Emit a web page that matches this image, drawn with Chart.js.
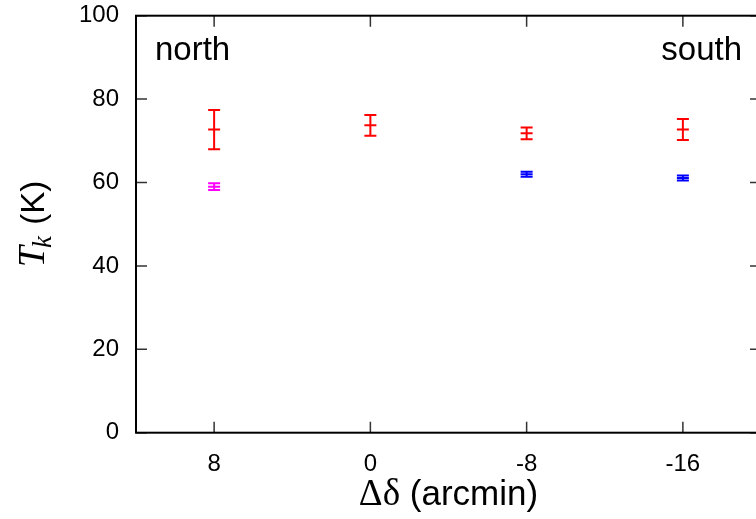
<!DOCTYPE html>
<html>
<head>
<meta charset="utf-8">
<script src="https://cdn.jsdelivr.net/npm/chart.js@4"></script>
<style>
  html, body { margin: 0; padding: 0; background: #fff; overflow: hidden; }
  #wrap { position: absolute; left: 0; top: 0; width: 772px; height: 519px; }
</style>
</head>
<body>
<div id="wrap"><canvas id="tk-chart"></canvas></div>
<script>
// declination offsets (arcmin), north to south
const offsets = ['8', '0', '-8', '-16'];

// kinetic temperature (K) and 1-sigma errors for each component
const redTk = [72.7, 73.7, 71.8, 72.7];
const redErr = [4.7, 2.5, 1.4, 2.5];
const magentaTk = [59.0, null, null, null];
const magentaErr = [0.8, null, null, null];
const blueTk = [null, null, 62.0, 61.1];
const blueErr = [null, null, 0.6, 0.6];

const SANS = '"Liberation Sans", Arial, Helvetica, sans-serif';
const SERIF = '"Liberation Serif", "Times New Roman", serif';

// vertical error bars with caps
const errorBars = {
  id: 'errorBars',
  afterDatasetsDraw(chart) {
    const ctx = chart.ctx;
    const yScale = chart.scales.y;
    chart.data.datasets.forEach((ds, i) => {
      const meta = chart.getDatasetMeta(i);
      ctx.save();
      ctx.strokeStyle = ds.borderColor;
      ctx.lineWidth = 2;
      meta.data.forEach((pt, j) => {
        const v = ds.data[j];
        const e = ds.errors[j];
        if (v == null || e == null) return;
        const top = yScale.getPixelForValue(v + e);
        const bot = yScale.getPixelForValue(v - e);
        ctx.beginPath();
        ctx.moveTo(pt.x, top);
        ctx.lineTo(pt.x, bot);
        ctx.moveTo(pt.x - 6, top);
        ctx.lineTo(pt.x + 6, top);
        ctx.moveTo(pt.x - 6, bot);
        ctx.lineTo(pt.x + 6, bot);
        ctx.stroke();
      });
      ctx.restore();
    });
  }
};

// box frame with inward, mirrored ticks
const frame = {
  id: 'frame',
  afterDraw(chart) {
    const { ctx, chartArea: a, scales } = chart;
    const len = 11;
    ctx.save();
    ctx.strokeStyle = '#333';
    ctx.lineWidth = 1.5;
    ctx.beginPath();
    scales.y.ticks.forEach((t, i) => {
      const y = scales.y.getPixelForTick(i);
      ctx.moveTo(a.left, y);
      ctx.lineTo(a.left + len, y);
      ctx.moveTo(a.right, y);
      ctx.lineTo(a.right - len, y);
    });
    scales.x.ticks.forEach((t, i) => {
      const x = scales.x.getPixelForTick(i);
      ctx.moveTo(x, a.bottom);
      ctx.lineTo(x, a.bottom - len);
      ctx.moveTo(x, a.top);
      ctx.lineTo(x, a.top + len);
    });
    ctx.stroke();
    ctx.strokeStyle = '#000';
    ctx.lineWidth = 2;
    ctx.strokeRect(a.left, a.top, a.right - a.left, a.bottom - a.top);
    ctx.restore();
  }
};

// axis titles and the north/south labels
const labels = {
  id: 'labels',
  afterDraw(chart) {
    const { ctx, chartArea: a } = chart;
    ctx.save();
    ctx.fillStyle = '#000';
    ctx.textBaseline = 'alphabetic';

    ctx.font = '33px ' + SANS;
    ctx.textAlign = 'left';
    ctx.fillText('north', 155, 60);
    ctx.textAlign = 'right';
    ctx.fillText('south', 742, 60);

    // x title: Δδ (arcmin)
    ctx.textAlign = 'left';
    const serifX = '37px ' + SERIF;
    const sansX = '35px ' + SANS;
    ctx.font = serifX;
    const w1 = ctx.measureText('Δδ').width;
    ctx.font = sansX;
    const w2 = ctx.measureText(' (arcmin)').width;
    const x0 = (a.left + a.right) / 2 - (w1 + w2) / 2;
    ctx.font = serifX;
    ctx.fillText('Δδ', x0, 505);
    ctx.font = sansX;
    ctx.fillText(' (arcmin)', x0 + w1, 505);

    // y title: T_k (K), rotated
    ctx.translate(44, 224);
    ctx.rotate(-Math.PI / 2);
    const fT = 'italic 38px ' + SERIF;
    const fk = 'italic 27px ' + SERIF;
    const fK = '33px ' + SANS;
    ctx.font = fT;
    const tw = ctx.measureText('T').width;
    ctx.font = fk;
    const kw = ctx.measureText('k').width;
    ctx.font = fK;
    const Kw = ctx.measureText(' (K)').width;
    const s = -(tw + kw + Kw) / 2;
    ctx.font = fT;
    ctx.fillText('T', s, 0);
    ctx.font = fk;
    ctx.fillText('k', s + tw - 2, 7);
    ctx.font = fK;
    ctx.fillText(' (K)', s + tw + kw, 0);
    ctx.restore();
  }
};

function series(data, errors, color) {
  return {
    data: data,
    errors: errors,
    borderColor: color,
    backgroundColor: color,
    showLine: false,
    pointStyle: 'line',
    pointRadius: 6,
    pointHoverRadius: 6,
    pointBorderWidth: 2
  };
}

new Chart(document.getElementById('tk-chart'), {
  type: 'line',
  data: {
    labels: offsets,
    datasets: [
      series(redTk, redErr, '#ff0000'),
      series(magentaTk, magentaErr, '#ff00ff'),
      series(blueTk, blueErr, '#0000ff')
    ]
  },
  options: {
    responsive: true,
    maintainAspectRatio: false,
    animation: false,
    events: [],
    layout: { padding: { left: 0, top: 15.7, right: 11, bottom: 0 } },
    plugins: {
      legend: { display: false },
      tooltip: { enabled: false }
    },
    scales: {
      x: {
        type: 'category',
        offset: true,
        grid: { display: false, drawTicks: false },
        border: { display: false },
        ticks: { color: '#000', font: { family: SANS, size: 24 }, padding: 17 },
        afterFit(scale) {
          scale.height = 86.3;
          scale.paddingLeft = 0;
          scale.paddingRight = 0;
        }
      },
      y: {
        min: 0,
        max: 100,
        grid: { display: false, drawTicks: false },
        border: { display: false },
        ticks: { stepSize: 20, color: '#000', font: { family: SANS, size: 24 }, padding: 17 },
        afterFit(scale) {
          scale.width = 136;
          scale.paddingTop = 0;
          scale.paddingBottom = 0;
        }
      }
    }
  },
  plugins: [errorBars, frame, labels]
});
</script>
</body>
</html>
